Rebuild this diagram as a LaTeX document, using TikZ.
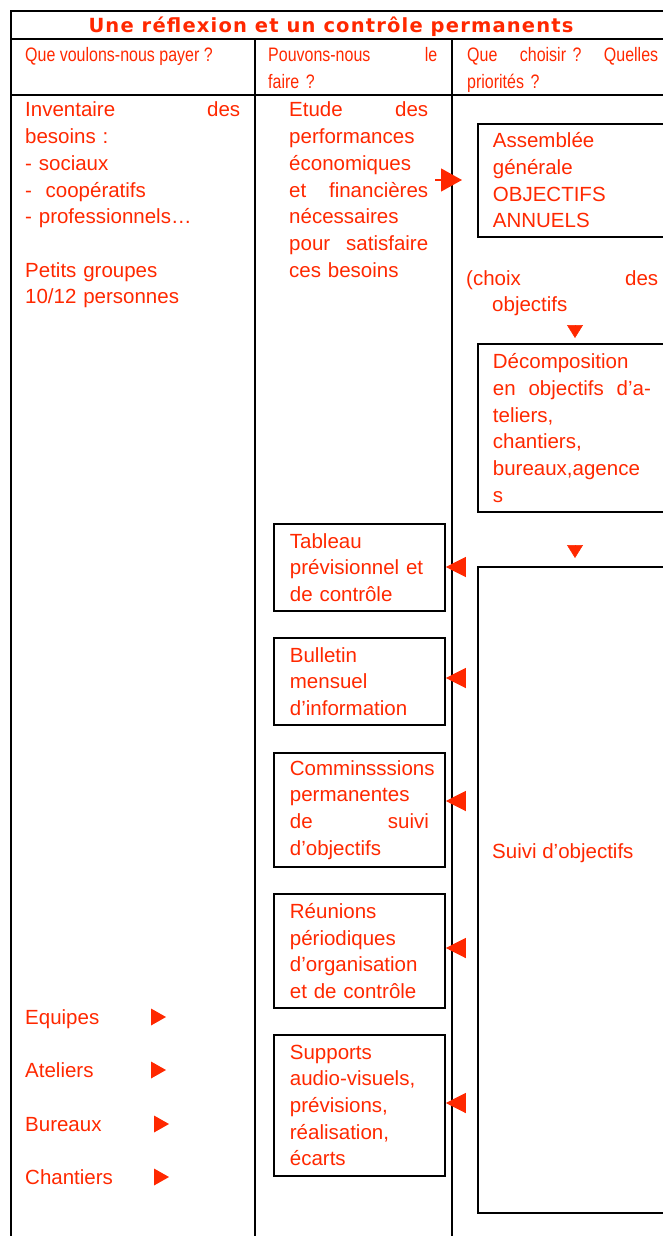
\documentclass[tikz,border=0pt]{standalone}
\usepackage{fontspec}
\setmainfont{Liberation Sans}
\newfontfamily\headfont[FakeStretch=0.82]{Liberation Sans}
\newfontfamily\titlefont[LetterSpace=6]{DejaVu Sans}
\usetikzlibrary{arrows.meta,positioning}
\definecolor{rouge}{RGB}{255,40,0}

\begin{document}
\begin{tikzpicture}[x=1pt, y=-1pt,
    grid/.style={line width=1.8pt},
    txt/.style={text=rouge, font=\fontsize{20.5}{26.7}\selectfont, inner sep=0pt, align=left},
    head/.style={text=rouge, font=\headfont\fontsize{19.5}{27}\selectfont, inner sep=0pt, align=left},
    box/.style={draw, line width=1.8pt, txt, inner xsep=15pt, inner ysep=0pt, anchor=north west},
    tri/.style={rouge, line width=1.2pt, -{Triangle[length=20pt,width=20pt]}}]
  \useasboundingbox (0,0) rectangle (663,1236);
  \clip (0,0) rectangle (663,1236);

  % tableau
  \draw[grid] (11,1240) -- (11,11) -- (700,11);
  \draw[grid] (11,39) -- (700,39);
  \draw[grid] (11,95) -- (700,95);
  \draw[grid] (255,39) -- (255,1240);
  \draw[grid] (452,39) -- (452,1240);

  % titre et questions
  \node[text=rouge, font=\titlefont\bfseries\fontsize{19.5}{22}\selectfont, anchor=base, inner sep=0pt] (titre) at (331,33) {Une réflexion et un contrôle permanents};
  \node[head, anchor=base west] (q1) at (25,62) {Que voulons-nous payer ?};
  \node[head, anchor=base west, text width=169pt] (q2) at (268,62) {Pouvons-nous\hfill le\\ faire ?};
  \node[head, anchor=base west, text width=191pt] (q3) at (467,62) {Que\hfill choisir ?\hfill Quelles\\ priorités ?};

  % colonne 1
  \node[txt, anchor=base west, text width=215pt] (besoins) at (25,117) {Inventaire\hfill des\\ besoins :\\ - sociaux\\ -\ \ coopératifs\\ - professionnels…\\[26.7pt] Petits groupes\\ 10/12 personnes};
  \foreach \lieu/\yy/\xx in {Equipes/1024/151, Ateliers/1077/151, Bureaux/1131/154, Chantiers/1184/154} {
    \node[txt, anchor=base west] (\lieu) at (25,\yy) {\lieu};
    \fill[rouge] (\xx,\yy-15.5) -- (\xx+15,\yy-7) -- (\xx,\yy+1.5) -- cycle;
  }

  % colonne 2
  \node[txt, anchor=base west, text width=139pt] (etude) at (289,117) {Etude\hfill des\\ performances\\ économiques\\ et\hfill financières\\ nécessaires\\ pour\hfill satisfaire\\ ces besoins};
  \node[box, inner xsep=16pt, text width=139pt, minimum height=87pt] (tableau) at (273,523) {Tableau\\ prévisionnel et\\ de contrôle};
  \node[box, inner xsep=16pt, text width=139pt, minimum height=87pt] (bulletin) at (273,637) {Bulletin\\ mensuel\\ d’information};
  \node[box, inner xsep=16pt, text width=139pt, minimum height=114pt] (commissions) at (273,752) {Comminsssions\\ permanentes\\ de\hfill suivi\\ d’objectifs};
  \node[box, inner xsep=16pt, text width=139pt, minimum height=114pt] (reunions) at (273,893) {Réunions\\ périodiques\\ d’organisation\\ et de contrôle};
  \node[box, inner xsep=16pt, text width=139pt, minimum height=141pt] (supports) at (273,1034) {Supports\\ audio-visuels,\\ prévisions,\\ réalisation,\\ écarts};

  % colonne 3
  \node[box, text width=158pt, minimum height=113pt] (assemblee) at (477,123) {Assemblée\\ générale\\ OBJECTIFS\\ ANNUELS};
  \node[txt, anchor=base west, text width=192pt] (choix) at (466,285) {(choix\hfill des\\ \hspace*{26pt}objectifs};
  \node[box, text width=158pt, minimum height=168pt] (decomp) at (477,343) {Décomposition\\ en\hfill objectifs\hfill d’a-\\ teliers,\\ chantiers,\\ bureaux,agence\\ s};
  \node[box, text width=158pt, minimum height=646pt] (suivi) at (477,566) {};
  \node[txt, anchor=base west] (suivitxt) at (492,858) {Suivi d’objectifs};

  % fleches
  \coordinate (etudeout) at (435,180);
  \draw[tri, -{Triangle[length=21pt,width=23pt]}, shorten >=15pt] (etudeout) -- (etudeout -| assemblee.west);
  \coordinate (d1) at (575,325);
  \draw[rouge, line width=0.5pt, -{Triangle[length=13pt,width=16pt]}, shorten >=5pt] (d1) -- (d1 |- decomp.north);
  \coordinate (d2) at (575,545);
  \draw[rouge, line width=0.5pt, -{Triangle[length=13pt,width=16pt]}, shorten >=8pt] (d2) -- (d2 |- suivi.north);
  \foreach \cible/\yy in {tableau/567, bulletin/678, commissions/801, reunions/948, supports/1103} {
    \coordinate (s-\cible) at (463,\yy);
    \draw[tri] (s-\cible) -- (s-\cible -| \cible.east);
  }
\end{tikzpicture}
\end{document}
